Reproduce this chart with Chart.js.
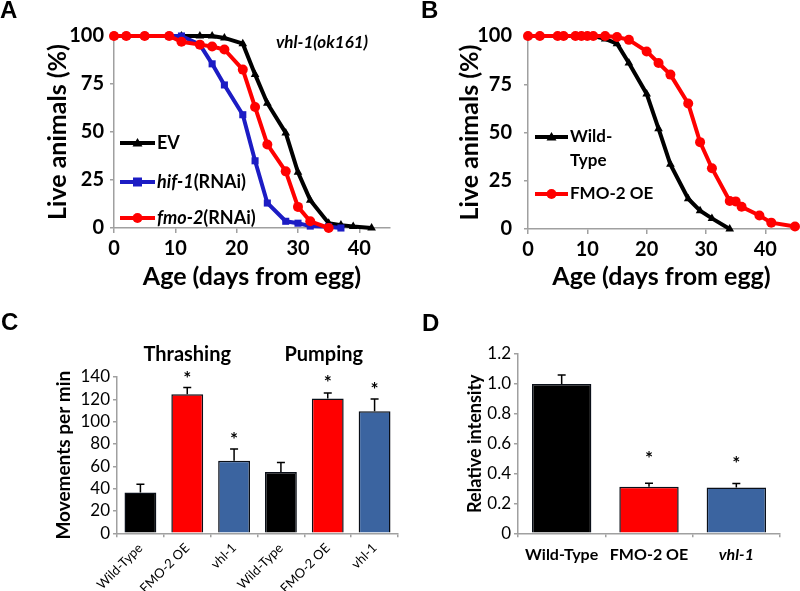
<!DOCTYPE html>
<html lang="en">
<head>
<meta charset="UTF-8">
<title>vhl-1 / FMO-2 lifespan and behaviour</title>
<script src="https://cdn.jsdelivr.net/npm/chart.js"></script>
<style>
    body { margin: 0; background: #fff; }
    #wrap { position: relative; width: 800px; height: 591px; overflow: hidden; }
    .panel { position: absolute; }
    .tag { position: absolute; font: bold 24px "Liberation Sans", Arial, sans-serif; line-height: 24px; }
</style>
</head>
<body>
<div id="wrap">
    <div class="panel" style="left:0;top:0;width:400px;height:295px"><canvas id="chartA"></canvas></div>
    <div class="panel" style="left:400px;top:0;width:400px;height:295px"><canvas id="chartB"></canvas></div>
    <div class="panel" style="left:0;top:295px;width:400px;height:296px"><canvas id="chartC"></canvas></div>
    <div class="panel" style="left:400px;top:295px;width:400px;height:296px"><canvas id="chartD"></canvas></div>
    <div class="tag" style="left:0px;top:-2px">A</div>
    <div class="tag" style="left:421px;top:-2px">B</div>
    <div class="tag" style="left:1px;top:310px">C</div>
    <div class="tag" style="left:422px;top:311px">D</div>
</div>
<script>
// Panel A - vhl-1(ok161) survival on RNAi
const daysEV  = [0, 2, 5, 9, 11, 14, 16, 18, 21, 23, 25, 28, 30, 32, 35, 37, 39, 42];
const liveEV  = [100, 100, 100, 100, 100, 100, 100, 99, 96, 80, 65, 49.5, 29, 14.5, 2.5, 1.5, 0.8, 0];
const daysHif = [0, 2, 5, 9, 11, 14, 16, 18, 21, 23, 25, 28, 30, 32, 35, 37];
const liveHif = [100, 100, 100, 100, 100, 95.5, 85.5, 74.5, 59, 35, 13, 3.5, 2.5, 1, 0.7, 0];
const daysFmo = [0, 2, 5, 9, 11, 14, 16, 18, 21, 23, 25, 28, 30, 32, 35];
const liveFmo = [100, 100, 100, 100, 97, 95.5, 94.5, 93, 82.5, 63, 43.5, 29.5, 11, 3.5, 0];

// Panel B - wild type vs FMO-2 overexpression
const daysWT = [0, 2, 5, 6, 8, 9, 10, 11, 13, 15, 17, 20, 22, 24, 27, 29, 31, 34];
const liveWT = [100, 100, 100, 100, 100, 100, 100, 100, 98.5, 96, 86, 70, 52, 33.5, 15.7, 9.5, 5.5, 0];
const daysOE = [0, 2, 5, 6, 8, 9, 10, 11, 13, 15, 17, 20, 22, 24, 27, 29, 31, 34, 35, 36, 39, 41, 45];
const liveOE = [100, 100, 100, 100, 100, 100, 100, 100, 100, 99.5, 98, 92, 86, 80, 65, 45, 31.5, 14.5, 14.3, 11.5, 7, 3.3, 1.3];

// Panel C - thrashing and pumping
const movLabels = ['Wild-Type', 'FMO-2 OE', 'vhl-1', 'Wild-Type', 'FMO-2 OE', 'vhl-1'];
const movMeans  = [36.5, 124.5, 65, 55, 120.7, 109.3];
const movErr    = [7.5, 6, 10.5, 8.5, 5, 11];
const movStars  = [null, 142, 87, null, 138, 131.5];
const movGroups = ['Thrashing', 'Pumping'];

// Panel D - autofluorescence
const autoLabels = ['Wild-Type', 'FMO-2 OE', 'vhl-1'];
const autoMeans  = [1.0, 0.312, 0.306];
const autoErr    = [0.06, 0.023, 0.028];
const autoStars  = [null, 0.525, 0.49];

const RED = '#ff0000';
const BLUE_LINE = '#1c1cc4';
const BLUE_BAR = '#3b64a0';
const AXIS = '#a0a0a0';

Chart.defaults.font.family = 'Lato, sans-serif';
Chart.defaults.color = '#000';

function pts(xs, ys) {
    return xs.map((x, i) => ({ x: x, y: ys[i] }));
}

function drawMarker(ctx, style, x, y, r, color) {
    ctx.fillStyle = color;
    ctx.beginPath();
    if (style === 'triangle') {
        ctx.moveTo(x, y - r);
        ctx.lineTo(x + r, y + r * 0.7);
        ctx.lineTo(x - r, y + r * 0.7);
        ctx.closePath();
    } else if (style === 'rect') {
        ctx.rect(x - r * 0.9, y - r * 0.9, r * 1.8, r * 1.8);
    } else {
        ctx.arc(x, y, r, 0, Math.PI * 2);
    }
    ctx.fill();
}

// in-plot legend with mixed italic / normal text
const inLegend = {
    id: 'inLegend',
    afterDraw(chart, args, opts) {
        const ctx = chart.ctx;
        ctx.save();
        opts.items.forEach(item => {
            const ds = chart.data.datasets[item.ds];
            ctx.strokeStyle = ds.borderColor;
            ctx.lineWidth = 4;
            ctx.beginPath();
            ctx.moveTo(opts.x0, item.y);
            ctx.lineTo(opts.x1, item.y);
            ctx.stroke();
            drawMarker(ctx, ds.pointStyle, (opts.x0 + opts.x1) / 2, item.y, 5, ds.borderColor);
            ctx.fillStyle = '#000';
            ctx.textBaseline = 'middle';
            item.lines.forEach((parts, li) => {
                let x = opts.x1 + 2;
                parts.forEach(p => {
                    ctx.font = (p[1] ? 'italic ' : '') + 'bold ' + opts.size + 'px Lato';
                    ctx.fillText(p[0], x, item.y + li * 24);
                    x += ctx.measureText(p[0]).width;
                });
            });
        });
        if (opts.note) {
            ctx.font = 'italic bold 17px Lato';
            ctx.textAlign = 'center';
            ctx.fillText(opts.note.text, opts.note.x, opts.note.y);
        }
        ctx.restore();
    }
};

// upward error bars, significance stars and headings for bar panels
const errorBars = {
    id: 'errorBars',
    afterDatasetsDraw(chart, args, opts) {
        const ctx = chart.ctx;
        const ys = chart.scales.y;
        const xs = chart.scales.x;
        const vals = chart.data.datasets[0].data;
        ctx.save();
        ctx.strokeStyle = '#000';
        ctx.lineWidth = 1.5;
        chart.getDatasetMeta(0).data.forEach((bar, i) => {
            const top = ys.getPixelForValue(vals[i] + opts.err[i]);
            ctx.beginPath();
            ctx.moveTo(bar.x, bar.y);
            ctx.lineTo(bar.x, top);
            ctx.moveTo(bar.x - 4, top);
            ctx.lineTo(bar.x + 4, top);
            ctx.stroke();
            if (opts.stars[i] != null) {
                ctx.fillStyle = '#000';
                ctx.font = 'bold 19px Lato';
                ctx.textAlign = 'center';
                ctx.textBaseline = 'alphabetic';
                ctx.fillText('*', bar.x, ys.getPixelForValue(opts.stars[i]) + 10);
            }
        });
        ctx.font = 'bold 20px Lato';
        ctx.textAlign = 'center';
        ctx.textBaseline = 'middle';
        ctx.fillStyle = '#000';
        opts.heads.forEach(h => {
            const x = h.at != null ? xs.getPixelForValue(h.at) + (h.dx || 0) : h.x;
            ctx.fillText(h.text, x, h.y);
        });
        ctx.restore();
    }
};

function lineScales(o) {
    return {
        x: {
            type: 'linear', min: 0, max: 45,
            border: { color: AXIS, width: 1.5 },
            grid: { drawOnChartArea: false, color: AXIS, tickLength: 5, lineWidth: 1.5 },
            ticks: { stepSize: 10, includeBounds: false, font: { size: 20, weight: 'bold' }, padding: 4 },
            afterBuildTicks: s => { s.ticks = s.ticks.filter(t => t.value % 10 === 0); },
            title: { display: true, text: 'Age (days from egg)', font: { size: 25, weight: 'bold' }, padding: { top: 0, bottom: 3 } },
            afterFit: s => { s.height = o.xh; }
        },
        y: {
            min: 0, max: 100,
            border: { color: AXIS, width: 1.5 },
            grid: { drawOnChartArea: false, color: AXIS, tickLength: 4, lineWidth: 1.5 },
            ticks: { stepSize: 25, autoSkip: false, font: { size: 20, weight: 'bold' }, padding: o.tp },
            title: { display: true, text: 'Live animals (%)', font: { size: 25, weight: 'bold' }, padding: { top: o.tt, bottom: 0 } },
            afterFit: s => { s.width = o.yw; }
        }
    };
}

function lineSet(label, xs, ys, color, style, order) {
    return {
        label: label, data: pts(xs, ys), borderColor: color, backgroundColor: color,
        pointStyle: style, pointRadius: 5, pointBorderWidth: 0, borderWidth: 4,
        tension: 0, order: order, clip: false
    };
}

// A
new Chart(document.getElementById('chartA'), {
    type: 'line',
    data: {
        datasets: [
            lineSet('EV', daysEV, liveEV, '#000', 'triangle', 3),
            lineSet('hif-1(RNAi)', daysHif, liveHif, BLUE_LINE, 'rect', 2),
            lineSet('fmo-2(RNAi)', daysFmo, liveFmo, RED, 'circle', 1)
        ]
    },
    options: {
        responsive: true, maintainAspectRatio: false, animation: false,
        layout: { padding: { top: 36, right: 10, bottom: 0, left: 0 } },
        plugins: {
            legend: { display: false }, tooltip: { enabled: false },
            inLegend: {
                x0: 120, x1: 155, size: 18,
                items: [
                    { ds: 0, y: 143, lines: [[['EV', false]]] },
                    { ds: 1, y: 182, lines: [[['hif-1', true], ['(RNAi)', false]]] },
                    { ds: 2, y: 218, lines: [[['fmo-2', true], ['(RNAi)', false]]] }
                ],
                note: { text: 'vhl-1(ok161)', x: 322, y: 43 }
            }
        },
        scales: lineScales({ xh: 67, yw: 114, tp: 6, tt: 43 })
    },
    plugins: [inLegend]
});

// B
new Chart(document.getElementById('chartB'), {
    type: 'line',
    data: {
        datasets: [
            lineSet('Wild-Type', daysWT, liveWT, '#000', 'triangle', 2),
            lineSet('FMO-2 OE', daysOE, liveOE, RED, 'circle', 1)
        ]
    },
    options: {
        responsive: true, maintainAspectRatio: false, animation: false,
        layout: { padding: { top: 36, right: 0, bottom: 0, left: 0 } },
        plugins: {
            legend: { display: false }, tooltip: { enabled: false },
            inLegend: {
                x0: 135, x1: 168, size: 17,
                items: [
                    { ds: 0, y: 137, lines: [[['Wild-', false]], [['Type', false]]] },
                    { ds: 1, y: 194, lines: [[['FMO-2 OE', false]]] }
                ]
            }
        },
        scales: lineScales({ xh: 66, yw: 128, tp: 12, tt: 55 })
    },
    plugins: [inLegend]
});

// C
new Chart(document.getElementById('chartC'), {
    type: 'bar',
    data: {
        labels: movLabels,
        datasets: [{
            data: movMeans,
            backgroundColor: ['#000', RED, BLUE_BAR, '#000', RED, BLUE_BAR],
            borderColor: '#0a0f18', borderWidth: 1.5,
            barPercentage: 0.68, categoryPercentage: 1
        }]
    },
    options: {
        responsive: true, maintainAspectRatio: false, animation: false,
        layout: { padding: { top: 82, right: 2, bottom: 0, left: 0 } },
        plugins: {
            legend: { display: false }, tooltip: { enabled: false },
            errorBars: {
                err: movErr, stars: movStars,
                heads: [
                    { text: movGroups[0], at: 1, dx: 0, y: 60 },
                    { text: movGroups[1], at: 4, dx: -4, y: 60 }
                ]
            }
        },
        scales: {
            x: {
                border: { color: AXIS, width: 1.5 },
                grid: { drawOnChartArea: false, color: AXIS, tickLength: 4, lineWidth: 1.5 },
                ticks: { minRotation: 45, maxRotation: 45, autoSkip: false, font: { size: 13 }, padding: 3 },
                afterFit: s => { s.height = 57.7; }
            },
            y: {
                min: 0, max: 140,
                border: { color: AXIS, width: 1.5 },
                grid: { drawOnChartArea: false, color: AXIS, tickLength: 4, lineWidth: 1.5 },
                ticks: { stepSize: 20, autoSkip: false, font: { size: 17 }, padding: 3 },
                title: { display: true, text: 'Movements per min', font: { size: 19, weight: 'bold' }, padding: { top: 52, bottom: 0 } },
                afterFit: s => { s.width = 117; }
            }
        }
    },
    plugins: [errorBars]
});

// D
new Chart(document.getElementById('chartD'), {
    type: 'bar',
    data: {
        labels: autoLabels,
        datasets: [{
            data: autoMeans,
            backgroundColor: ['#000', RED, BLUE_BAR],
            borderColor: '#0a0f18', borderWidth: 1.5,
            barPercentage: 0.68, categoryPercentage: 1
        }]
    },
    options: {
        responsive: true, maintainAspectRatio: false, animation: false,
        layout: { padding: { top: 59, right: 20, bottom: 0, left: 0 } },
        plugins: {
            legend: { display: false }, tooltip: { enabled: false },
            errorBars: {
                err: autoErr, stars: autoStars,
                heads: [{ text: 'Autofluorescence', x: 261, y: 67 }]
            }
        },
        scales: {
            x: {
                border: { color: AXIS, width: 1.5 },
                grid: { drawOnChartArea: false, color: AXIS, tickLength: 4, lineWidth: 1.5 },
                ticks: {
                    maxRotation: 0, autoSkip: false, padding: 8,
                    font: ctx => ({ size: 16, weight: 'bold', style: ctx.index === 2 ? 'italic' : 'normal' })
                },
                afterFit: s => { s.height = 57.7; }
            },
            y: {
                min: 0, max: 1.2,
                border: { color: AXIS, width: 1.5 },
                grid: { drawOnChartArea: false, color: AXIS, tickLength: 4, lineWidth: 1.5 },
                ticks: { stepSize: 0.2, autoSkip: false, font: { size: 17 }, padding: 3 },
                title: { display: true, text: 'Relative intensity', font: { size: 18, weight: 'bold' }, padding: { top: 64, bottom: 0 } },
                afterFit: s => { s.width = 118; }
            }
        }
    },
    plugins: [errorBars]
});
</script>
</body>
</html>
